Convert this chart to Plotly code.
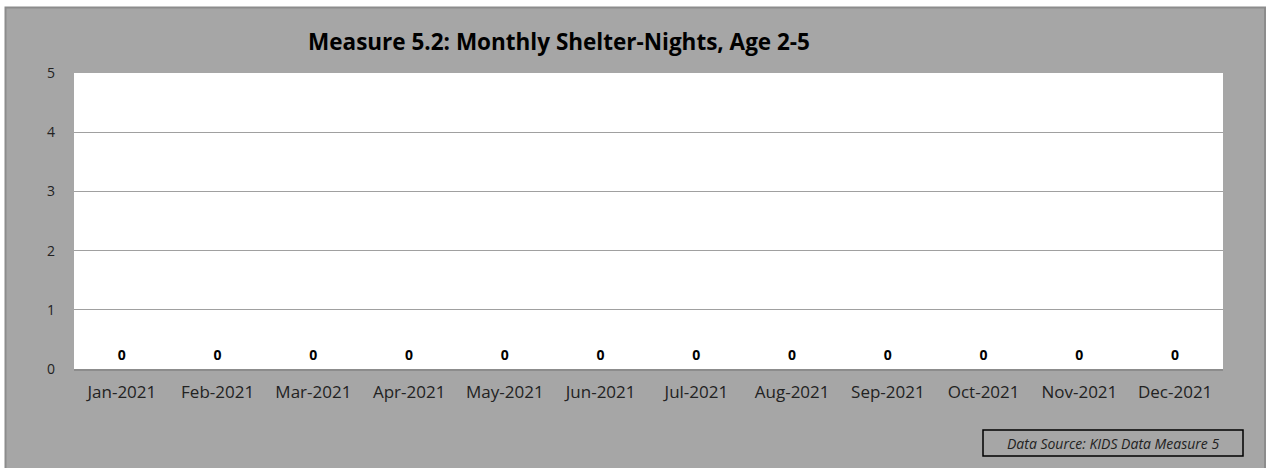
import plotly.graph_objects as go

months = ["Jan-2021", "Feb-2021", "Mar-2021", "Apr-2021", "May-2021", "Jun-2021",
          "Jul-2021", "Aug-2021", "Sep-2021", "Oct-2021", "Nov-2021", "Dec-2021"]
shelter_nights = [0, 0, 0, 0, 0, 0, 0, 0, 0, 0, 0, 0]
y_ticks = [0, 1, 2, 3, 4, 5]

W, H = 1270, 468
L, R, T, B = 74, 47, 73, 99
pw, ph = W - L - R, H - T - B


def px_x(p):
    return (p - L) / pw


def px_y(p):
    return (H - B - p) / ph


FONT = "Open Sans"

fig = go.Figure()
fig.add_trace(go.Scatter(
    x=months, y=shelter_nights,
    mode="markers+text",
    marker=dict(size=8, opacity=0),
    text=[str(v) for v in shelter_nights],
    textposition="top center",
    textfont=dict(family=FONT, size=14, color="#000000", weight="bold"),
    cliponaxis=False,
    hoverinfo="skip",
    showlegend=False,
))

fig.update_layout(
    width=W, height=H,
    margin=dict(l=L, r=R, t=T, b=B, autoexpand=False),
    paper_bgcolor="white",
    plot_bgcolor="white",
    title=dict(
        text="<b>Measure 5.2: Monthly Shelter-Nights, Age 2-5</b>",
        x=px_x(559), xref="paper", xanchor="center",
        y=1 - 42 / H, yref="container", yanchor="middle",
        font=dict(family=FONT, size=22.5, color="#000000"),
    ),
    xaxis=dict(
        type="category",
        range=[-0.5, len(months) - 0.5],
        showgrid=False,
        showline=True, linecolor="#8c8c8c", linewidth=2,
        ticks="", tickfont=dict(family=FONT, size=17, color="#222222"),
        ticklabelstandoff=7,
        fixedrange=True,
    ),
    yaxis=dict(
        range=[0, 5],
        tickvals=y_ticks,
        showgrid=True, gridcolor="#a0a0a0", gridwidth=1,
        showline=False, zeroline=False,
        ticks="", tickfont=dict(family=FONT, size=14, color="#222222"),
        ticklabelstandoff=18,
        fixedrange=True,
    ),
    shapes=[
        dict(type="rect", xref="paper", yref="paper", layer="below",
             x0=px_x(5.5), x1=px_x(1265), y0=px_y(520), y1=px_y(7.5),
             fillcolor="#a6a6a6", line=dict(color="#8c8c8c", width=2)),
        dict(type="rect", xref="paper", yref="paper", layer="below",
             x0=0, x1=1, y0=0, y1=1, fillcolor="white", line=dict(width=0)),
        dict(type="rect", xref="paper", yref="paper",
             x0=px_x(983), x1=px_x(1243), y0=px_y(456), y1=px_y(430),
             fillcolor="rgba(0,0,0,0)", line=dict(color="#000000", width=1.5)),
    ],
    annotations=[
        dict(text="<i>Data Source: KIDS Data Measure 5</i>",
             xref="paper", yref="paper", x=px_x(1113), y=px_y(443),
             xanchor="center", yanchor="middle", showarrow=False,
             font=dict(family=FONT, size=14, color="#222222")),
    ],
)

fig.write_html("out.html", config={"displayModeBar": False},
               post_script="document.body.style.margin='0';")
